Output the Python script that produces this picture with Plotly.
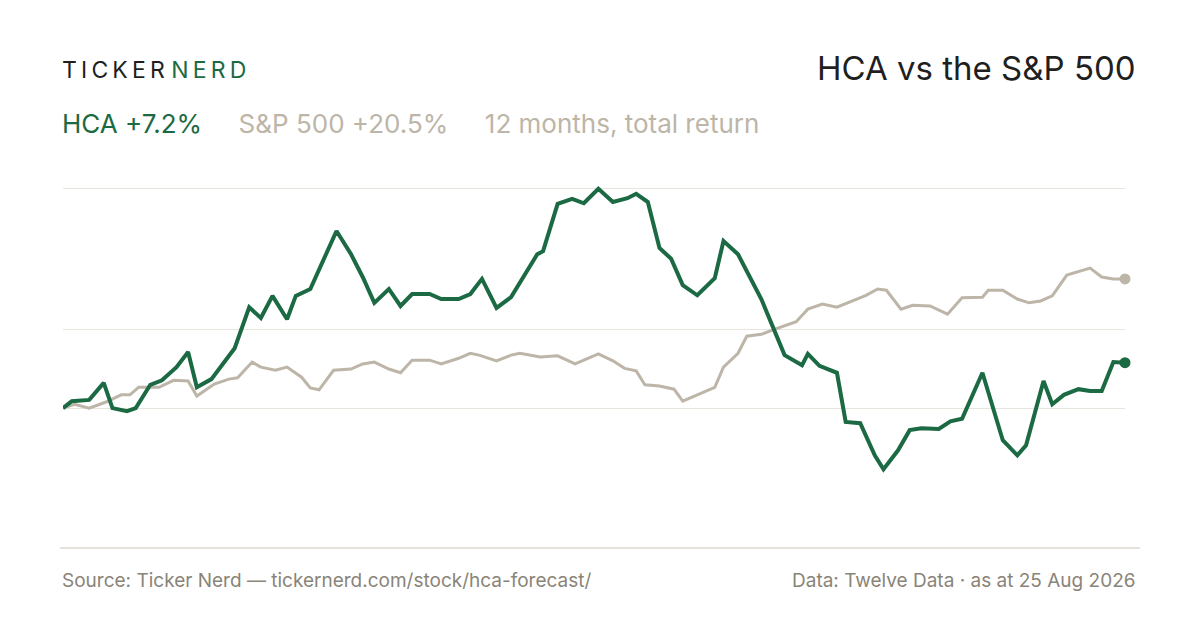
import pandas as pd
import plotly.graph_objects as go

start = pd.Timestamp("2025-08-25")

hca_days = [0, 3, 9, 14, 17, 22, 25, 30, 34, 39, 43, 46, 51, 59, 64, 68, 72, 77, 80, 85,
            94, 99, 103, 107, 112, 116, 120, 126, 130, 136, 140, 144, 149, 154, 163, 165,
            170, 175, 179, 184, 189, 194, 197, 201, 205, 209, 213, 218, 224, 227, 232, 240,
            248, 254, 256, 260, 266, 269, 274, 279, 282, 287, 291, 295, 301, 305, 309, 316,
            323, 328, 331, 337, 340, 344, 349, 353, 357, 361, 365]
hca_ret = [0, 1.1, 1.3, 4.0, 0, -0.5, 0, 3.7, 4.4, 6.5, 8.9, 3.3, 4.6, 9.5, 16.0, 14.3, 17.8,
           14.1, 17.8, 18.9, 28.1, 24.4, 20.8, 16.7, 18.9, 16.2, 18.1, 18.1, 17.3, 17.3, 18.1,
           20.5, 15.9, 17.6, 24.4, 24.9, 32.4, 33.2, 32.5, 34.8, 32.7, 33.3, 34.0, 32.7, 25.4,
           23.7, 19.5, 17.9, 20.6, 26.5, 24.4, 17.3, 8.4, 6.8, 8.6, 6.7, 5.6, -2.2, -2.4, -7.5,
           -9.7, -6.7, -3.5, -3.2, -3.3, -2.1, -1.7, 5.6, -5.1, -7.5, -5.9, 4.3, 0.6, 2.1, 3.0,
           2.7, 2.7, 7.3, 7.2]

spx_days = [0, 4, 9, 15, 20, 23, 26, 33, 38, 43, 46, 52, 57, 60, 65, 68, 73, 77, 82, 85, 88,
            93, 99, 103, 107, 112, 116, 120, 126, 130, 136, 140, 143, 149, 154, 157, 164, 170,
            176, 184, 189, 193, 197, 200, 205, 210, 213, 218, 224, 227, 232, 235, 240, 244,
            249, 252, 256, 261, 266, 271, 276, 280, 283, 288, 292, 298, 304, 309, 316, 318,
            323, 328, 332, 336, 340, 345, 349, 353, 357, 361, 365]
spx_ret = [0, 0.6, 0, 1.0, 2.1, 2.1, 3.3, 3.3, 4.4, 4.3, 1.9, 3.8, 4.6, 4.8, 7.3, 6.5, 6.0,
           6.5, 4.9, 3.2, 2.9, 6.0, 6.2, 7.0, 7.3, 6.2, 5.6, 7.6, 7.6, 7.0, 7.9, 8.7, 8.4, 7.5,
           8.4, 8.7, 8.1, 8.3, 7.0, 8.6, 7.5, 6.3, 5.9, 3.7, 3.5, 3.0, 1.1, 2.1, 3.3, 6.5, 8.7,
           11.4, 11.7, 12.4, 13.2, 13.7, 15.7, 16.5, 16.0, 17.0, 17.9, 18.9, 18.7, 15.7, 16.3,
           16.2, 14.9, 17.5, 17.6, 18.7, 18.7, 17.3, 16.7, 17.0, 17.8, 21.1, 21.6, 22.2, 20.8,
           20.5, 20.5]

grid_vals = [0, 12.5, 34.8]

GREEN = "#1b6a43"
GREY = "#bdb5a8"
DARK = "#1f1f1f"
MUTED = "#8a8478"

# page body adds an 8px offset, so everything is placed 8px up/left
OFF = 8
L, R, T, B = 63 - OFF, 1125 - OFF, 173 - OFF, 548 - OFF

hca_x = [start + pd.Timedelta(days=d) for d in hca_days]
spx_x = [start + pd.Timedelta(days=d) for d in spx_days]

fig = go.Figure()
fig.add_trace(go.Scatter(x=spx_x, y=spx_ret, mode="lines", line={"color": GREY, "width": 3},
                         hoverinfo="skip"))
fig.add_trace(go.Scatter(x=hca_x, y=hca_ret, mode="lines", line={"color": GREEN, "width": 4},
                         hoverinfo="skip"))
fig.add_trace(go.Scatter(x=[spx_x[-1]], y=[spx_ret[-1]], mode="markers",
                         marker={"color": GREY, "size": 11}, cliponaxis=False))
fig.add_trace(go.Scatter(x=[hca_x[-1]], y=[hca_ret[-1]], mode="markers",
                         marker={"color": GREEN, "size": 11}, cliponaxis=False))

sp = "\u2009"
annots = [
    dict(x=60, y=70, xanchor="left",
         text=f"<span style='color:{DARK}'>{sp.join('TICKER')}</span> "
              f"<span style='color:{GREEN}'>{sp.join('NERD')}</span>",
         font={"size": 23}),
    dict(x=1138, y=68, xanchor="right", text="HCA vs the S&P 500",
         font={"size": 33, "color": DARK}),
    dict(x=60, y=124, xanchor="left",
         text=f"<span style='color:{GREEN}'>HCA +7.2%</span>"
              f"     <span style='color:{GREY}'>S&P 500 +20.5%</span>"
              f"     <span style='color:{GREY}'>12 months, total return</span>",
         font={"size": 26}),
    dict(x=60, y=580, xanchor="left",
         text="Source: Ticker Nerd — tickernerd.com/stock/hca-forecast/",
         font={"size": 19, "color": MUTED}),
    dict(x=1138, y=580, xanchor="right", text="Data: Twelve Data · as at 25 Aug 2026",
         font={"size": 19, "color": MUTED}),
]
for a in annots:
    fig.add_annotation(x=(a["x"] - OFF - L) / (R - L), y=(B - a["y"] + OFF) / (B - T),
                       xref="paper", yref="paper",
                       xanchor=a["xanchor"], yanchor="middle", showarrow=False,
                       text=a["text"], font=a["font"])

fig.add_shape(type="line", xref="paper", yref="paper",
              x0=(60 - OFF - L) / (R - L), x1=(1140 - OFF - L) / (R - L), y0=0, y1=0,
              line={"color": "#dcd8d0", "width": 1.5})

fig.update_layout(
    width=1200, height=630,
    margin={"l": L, "r": 1200 - R, "t": T, "b": 630 - B, "autoexpand": False},
    paper_bgcolor="white", plot_bgcolor="white",
    showlegend=False,
    font={"family": "Inter, Liberation Sans, sans-serif"},
    xaxis={"visible": False, "range": [start, start + pd.Timedelta(days=365)]},
    yaxis={"range": [-22.2, 37.3], "tickvals": grid_vals, "showticklabels": False,
           "gridcolor": "#e8e5df", "gridwidth": 1, "zeroline": False},
)

fig.write_html("out.html")
